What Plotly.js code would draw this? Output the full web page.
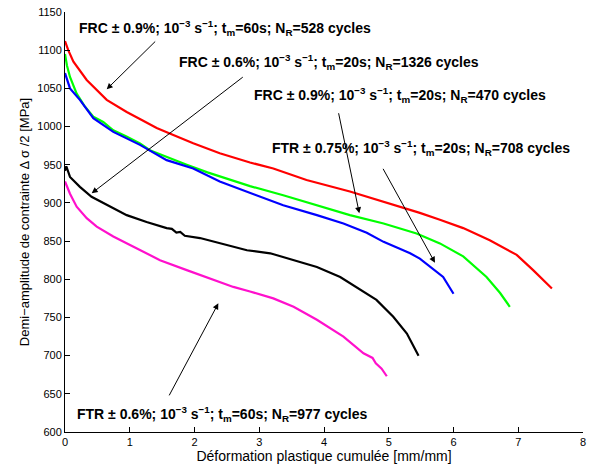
<!DOCTYPE html>
<html>
<head>
<meta charset="utf-8">
<script src="https://cdn.plot.ly/plotly-3.0.1.min.js"></script>
<style>html,body{margin:0;padding:0;background:#fff;}#chart{width:601px;height:466px;}</style>
</head>
<body>
<div id="chart"></div>
<script>
// FRC ±0.9%; tm=60s; NR=528 (red)
const redX = [0, 0.05, 0.13, 0.335, 0.644, 0.953, 1.2, 1.416, 1.673, 1.98, 2.39, 2.857, 3.217, 3.73, 4.40, 4.8, 5.17, 5.48, 5.79, 6.15, 6.56, 6.976, 7.23, 7.39, 7.52];
const redY = [1112, 1100, 1085, 1061, 1035, 1019, 1008, 998, 989, 978, 965, 953, 945, 930, 915, 905, 895, 887, 878, 867, 851, 832, 812, 799, 788];
// FRC ±0.9%; tm=20s; NR=470 (green)
const greenX = [0, 0.03, 0.077, 0.18, 0.3, 0.437, 0.59, 0.746, 0.95, 1.158, 1.31, 1.57, 1.88, 2.2, 2.5, 2.857, 3.37, 3.89, 4.40, 4.92, 5.43, 5.79, 6.15, 6.51, 6.72, 6.87];
const greenY = [1095, 1080, 1065, 1043, 1027, 1013, 1006, 995, 987, 978, 969, 960, 950, 940, 932, 922, 910, 897, 884, 873, 860, 847, 830, 803, 782, 764];
// FTR ±0.75%; tm=20s; NR=708 (blue)
const blueX = [0, 0.03, 0.077, 0.23, 0.437, 0.746, 1.158, 1.57, 1.98, 2.39, 3.01, 3.37, 3.89, 4.30, 4.66, 4.92, 5.17, 5.33, 5.48, 5.69, 5.84, 6.0];
const blueY = [1070, 1062, 1050, 1035, 1011, 993, 976, 956, 945, 928, 909, 897, 884, 873, 861, 849, 840, 834, 827, 813, 803, 781];
// FRC ±0.6%; tm=20s; NR=1326 (black)
const blackX = [0, 0.02, 0.077, 0.23, 0.41, 0.695, 0.953, 1.26, 1.57, 1.65, 1.72, 1.78, 1.85, 2.085, 2.5, 2.81, 3.17, 3.53, 3.89, 4.25, 4.56, 4.81, 5.07, 5.28, 5.46];
const blackY = [942, 948, 934, 921, 908, 895, 884, 875, 867, 866, 861, 862, 857, 854, 845, 838, 834, 825, 816, 803, 786, 773, 751, 729, 700];
// FTR ±0.6%; tm=60s; NR=977 (magenta)
const magX = [0, 0.077, 0.18, 0.335, 0.49, 0.746, 1.05, 1.467, 1.88, 2.24, 2.6, 2.857, 3.217, 3.53, 3.89, 4.30, 4.61, 4.75, 4.80, 4.89, 4.97];
const magY = [928, 912, 895, 880, 869, 856, 843, 825, 812, 801, 790, 784, 775, 764, 747, 725, 703, 697, 690, 683, 673];

const labels = [
  "FRC ± 0.9%; 10<sup>−3</sup> s<sup>−1</sup>; t<sub>m</sub>=60s; N<sub>R</sub>=528 cycles",
  "FRC ± 0.6%; 10<sup>−3</sup> s<sup>−1</sup>; t<sub>m</sub>=20s; N<sub>R</sub>=1326 cycles",
  "FRC ± 0.9%; 10<sup>−3</sup> s<sup>−1</sup>; t<sub>m</sub>=20s; N<sub>R</sub>=470 cycles",
  "FTR ± 0.75%; 10<sup>−3</sup> s<sup>−1</sup>; t<sub>m</sub>=20s; N<sub>R</sub>=708 cycles",
  "FTR ± 0.6%; 10<sup>−3</sup> s<sup>−1</sup>; t<sub>m</sub>=60s; N<sub>R</sub>=977 cycles"
];
const labelX = [0.185, 1.725, 2.883, 3.166, 0.154];
const labelY = [1129.7, 1084.5, 1041.3, 972.3, 623];
// arrows: tail -> head
const arrTailX = [1.416, 2.769, 4.221, 4.900, 1.597];
const arrTailY = [1113.3, 1066.2, 1019.4, 946.6, 646];
const arrHeadX = [0.644, 0.412, 4.545, 5.714, 2.368];
const arrHeadY = [1048.8, 912.6, 886.4, 821.7, 768.5];

const FONT = 'Liberation Sans, Arial, Helvetica, sans-serif';
const mk = (x, y, c) => ({x: x, y: y, type: 'scatter', mode: 'lines', line: {color: c, width: 2.2}, hoverinfo: 'skip'});
const data = [
  mk(redX, redY, '#ff0000'),
  mk(greenX, greenY, '#00ff00'),
  mk(blueX, blueY, '#0000ff'),
  mk(blackX, blackY, '#000000'),
  mk(magX, magY, '#ff10cc')
];

const annotations = [];
for (let i = 0; i < labels.length; i++) {
  annotations.push({
    x: labelX[i], y: labelY[i], xref: 'x', yref: 'y', text: '<b>' + labels[i] + '</b>',
    showarrow: false, xanchor: 'left', yanchor: 'middle',
    font: {family: FONT, size: 14, color: '#000'}
  });
  annotations.push({
    x: arrHeadX[i], y: arrHeadY[i], ax: arrTailX[i], ay: arrTailY[i],
    xref: 'x', yref: 'y', axref: 'x', ayref: 'y', text: '', showarrow: true,
    arrowhead: 2, arrowsize: 1.2, arrowwidth: 1, arrowcolor: '#000'
  });
}

const axisCommon = {
  showline: true, linecolor: '#000', linewidth: 1, mirror: false,
  ticks: 'inside', ticklen: 5, tickwidth: 1, tickcolor: '#000',
  showgrid: false, zeroline: false, automargin: false,
  tickfont: {family: FONT, size: 11, color: '#000'}
};

const layout = {
  width: 601, height: 466,
  margin: {l: 65, r: 18, t: 12, b: 34},
  paper_bgcolor: '#fff', plot_bgcolor: '#fff',
  showlegend: false,
  xaxis: Object.assign({}, axisCommon, {
    range: [0, 8], dtick: 1, tick0: 0,
    title: {text: 'Déformation plastique cumulée [mm/mm]', standoff: 0,
      font: {family: FONT, size: 14, color: '#000'}}
  }),
  yaxis: Object.assign({}, axisCommon, {
    range: [600, 1150], dtick: 50, tick0: 600,
    title: {text: 'Demi−amplitude de contrainte Δ σ /2 [MPa]', standoff: 4,
      font: {family: FONT, size: 13, color: '#000'}}
  }),
  annotations: annotations
};

Plotly.newPlot('chart', data, layout, {displayModeBar: false, staticPlot: true});
</script>
</body>
</html>
